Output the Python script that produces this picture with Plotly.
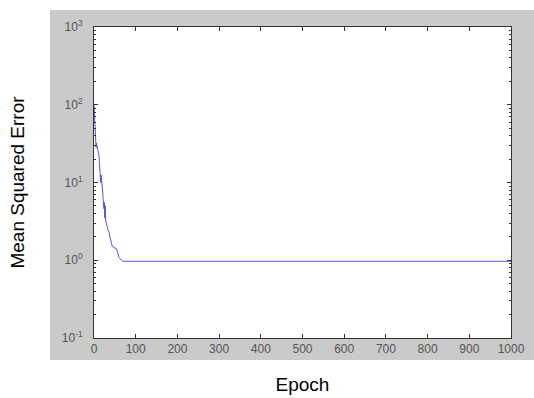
import plotly.graph_objects as go

# ---- data ----
epochs = [0, 1, 2, 3, 4, 5, 6, 7, 8, 9, 10, 11, 12, 13, 14, 15, 16, 17, 18, 19,
          20, 21, 22, 23, 24, 25, 26, 27, 28, 30, 32, 34, 36, 38, 40, 42, 44, 46,
          48, 50, 52, 54, 56, 58, 60, 62, 64, 66, 68, 70, 1000]
mse = [100, 70, 45, 35, 30, 28, 32, 27, 29, 26, 25, 24, 22, 18, 14, 11, 10, 12.5,
       11, 12, 9, 7.5, 6, 5, 4.6, 5.5, 3.5, 5, 3.2, 3.0, 2.7, 2.4, 2.3, 2.0, 1.8,
       1.6, 1.5, 1.48, 1.45, 1.45, 1.42, 1.4, 1.3, 1.15, 1.08, 1.05, 1.02, 1.0,
       0.98, 0.97, 0.97]

x_ticks = [0, 100, 200, 300, 400, 500, 600, 700, 800, 900, 1000]
y_ticks = [0.1, 1, 10, 100, 1000]
y_ticktext = ["10<sup>-1</sup>", "10<sup>0</sup>", "10<sup>1</sup>",
              "10<sup>2</sup>", "10<sup>3</sup>"]
y_minor = [k * 10 ** e for e in range(-1, 3) for k in range(2, 10)]

font_main = "Liberation Sans, Arial, sans-serif"

fig = go.Figure()
fig.add_trace(go.Scatter(x=epochs, y=mse, mode="lines",
                         line=dict(color="#5252e2", width=1),
                         showlegend=False, hoverinfo="skip"))

# gray figure background and white axes area
fig.add_shape(type="rect", xref="paper", yref="paper",
              x0=-0.1055, x1=1.1, y0=-0.0707, y1=1.0547,
              fillcolor="#cacaca", line_width=0, layer="below")
fig.add_shape(type="rect", xref="paper", yref="paper",
              x0=0, x1=1, y0=0, y1=1,
              fillcolor="white", line_width=0, layer="below")

axis_common = dict(showline=True, linecolor="#333333", linewidth=1,
                   mirror="ticks", ticks="inside", ticklen=4,
                   tickcolor="#333333", showgrid=False, zeroline=False,
                   automargin=False)

fig.update_xaxes(range=[0, 1000], tickvals=x_ticks,
                 ticktext=[str(v) for v in x_ticks],
                 tickfont=dict(family=font_main, size=12, color="#555555"),
                 title=dict(text="Epoch", font=dict(family=font_main, size=19, color="black"),
                            standoff=22),
                 **axis_common)
fig.update_yaxes(type="log", range=[-1, 3], tickvals=y_ticks, ticktext=y_ticktext,
                 tickfont=dict(family=font_main, size=12, color="#555555"),
                 ticklabelstandoff=8,
                 minor=dict(tickvals=y_minor, ticks="inside", ticklen=2,
                            tickcolor="#333333"),
                 title=dict(text="Mean Squared Error",
                            font=dict(family=font_main, size=19, color="black"),
                            standoff=32),
                 **axis_common)

fig.update_layout(width=534, height=398,
                  margin=dict(l=94, r=23, t=27, b=60),
                  paper_bgcolor="white", plot_bgcolor="rgba(0,0,0,0)")

fig.write_html("out.html", config={"displayModeBar": False},
               post_script="document.body.style.margin='0';"
                           "document.body.style.overflow='hidden';")
